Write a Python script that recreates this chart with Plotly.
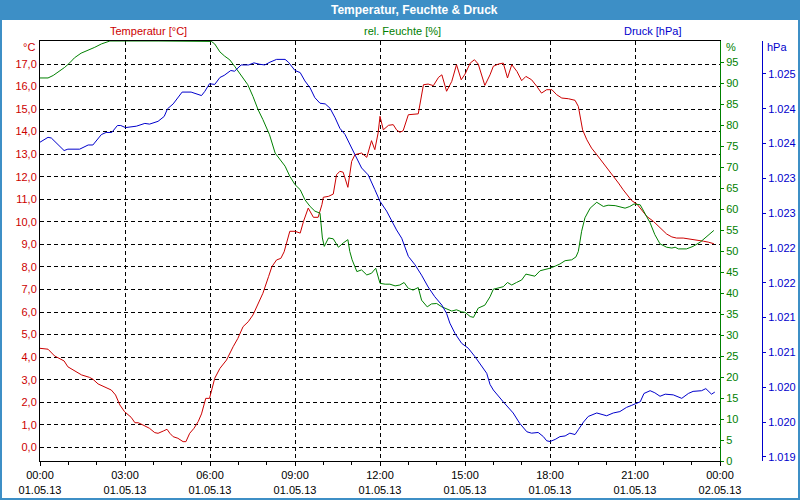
import pandas as pd
import plotly.graph_objects as go

# ---------------- data (minutes after 01.05.13 00:00) ----------------
temp_min = [0,17,31,51,59,74,88,105,112,123,
            137,151,160,169,179,193,201,208,218,232,
            243,250,261,269,275,282,292,303,309,317,
            326,335,342,351,359,364,370,381,395,409,
            419,430,441,451,462,472,484,491,501,510,
            517,522,529,540,551,558,568,579,589,597,
            600,611,621,628,635,642,652,660,667,681,
            692,702,709,716,720,727,738,748,755,762,
            769,780,791,801,812,822,833,844,851,861,
            872,882,892,900,911,920,928,942,953,960,
            971,981,990,999,1010,1020,1029,1041,1052,1062,
            1073,1084,1094,1105,1119,1133,1140,1145,1149,1158,
            1168,1179,1193,1204,1214,1225,1235,1246,1253,1264,
            1274,1285,1299,1313,1327,1338,1348,1362,1376,1391,
            1405,1415,1427]
temp_val = [4.39,4.35,4.05,3.83,3.57,3.40,3.21,3.10,3.02,2.81,
            2.69,2.54,2.32,1.88,1.58,1.33,1.09,1.09,0.99,0.84,
            0.65,0.62,0.72,0.80,0.62,0.47,0.40,0.25,0.25,0.62,
            0.84,1.14,1.48,2.17,2.17,2.54,3.06,3.50,3.87,4.46,
            4.83,5.35,5.57,5.87,6.39,6.83,7.57,8.01,8.31,8.38,
            8.67,9.06,9.58,9.58,9.50,10.02,10.61,10.20,10.20,10.76,
            11.09,11.13,11.23,12.09,12.24,12.20,11.53,12.68,12.98,13.05,
            12.86,13.60,13.20,13.94,14.68,14.08,14.28,14.31,14.08,13.97,
            14.04,14.75,14.78,14.79,16.08,16.11,16.04,16.41,16.52,15.79,
            16.23,16.97,16.30,16.55,17.04,17.19,17.00,16.05,16.52,16.90,
            17.00,17.04,16.38,16.97,16.67,16.26,16.45,16.30,16.01,15.71,
            15.86,15.86,15.64,15.49,15.46,15.39,15.12,14.60,14.08,13.64,
            13.27,12.98,12.61,12.31,12.02,11.72,11.42,11.13,10.94,10.79,
            10.54,10.24,10.02,9.73,9.46,9.33,9.28,9.28,9.24,9.21,
            9.14,9.10,9.03]

hum_min = [0,17,28,42,52,63,73,87,102,116,
           130,148,250,347,363,370,381,391,402,412,
           426,440,451,462,472,486,498,508,519,529,
           540,551,561,572,582,593,595,598,602,611,
           621,632,642,652,656,661,671,681,692,702,
           711,720,731,741,752,762,771,780,790,801,
           808,820,829,840,851,861,872,882,893,900,
           911,918,928,942,953,960,981,990,999,1009,
           1020,1029,1038,1048,1059,1069,1080,1091,1101,1112,
           1126,1135,1140,1147,1154,1165,1179,1193,1203,1218,
           1228,1239,1249,1258,1271,1281,1292,1302,1313,1327,
           1338,1345,1352,1369,1383,1398,1412,1427]
hum_val = [91.2,91.2,91.8,92.8,93.7,94.8,96.0,97.1,97.8,98.5,
           99.3,100,100,100,99.9,99.3,97.4,96.4,95.5,94.0,
           91.8,89.6,86.8,83.6,81.3,77.7,73.3,71.7,70.2,67.8,
           65.8,64.6,62.2,60.6,59.5,59.0,56.3,53.1,51.1,53.1,
           52.9,50.9,51.9,52.7,49.9,47.9,45.1,45.5,44.3,44.7,
           45.9,42.3,42.1,42.1,41.7,41.9,42.5,41.1,40.7,41.3,
           38.3,36.7,37.4,37.5,36.7,36.2,35.7,36.0,35.5,35.4,
           34.4,34.2,36.4,37.1,39.1,40.9,41.5,42.5,41.9,42.5,
           43.1,44.5,44.3,44.0,45.3,45.5,45.9,46.4,46.9,47.7,
           47.9,48.6,49.9,54.7,57.9,60.2,61.6,60.6,60.9,60.8,
           60.6,60.2,60.6,61.2,61.0,59.0,56.7,53.9,51.7,50.9,
           50.7,50.9,50.5,50.5,51.1,52.1,53.5,54.9]

pres_min = [0,17,24,38,51,59,84,102,112,130,
            140,152,164,171,181,204,222,232,250,263,
            270,282,301,320,335,342,349,359,370,381,
            390,404,412,426,442,453,465,476,487,501,
            519,526,540,551,561,572,582,593,604,614,
            625,635,646,656,667,681,695,709,720,734,
            745,755,766,777,780,794,808,822,836,851,
            861,868,879,893,907,921,935,946,953,960,
            981,1002,1016,1031,1041,1055,1066,1073,1080,1091,
            1101,1112,1122,1133,1140,1151,1161,1179,1200,1214,
            1228,1242,1253,1264,1271,1279,1292,1302,1313,1324,
            1341,1359,1373,1383,1401,1410,1415,1422,1429]
pres_val = [1024.02,1024.09,1024.08,1023.99,1023.90,1023.92,1023.92,1023.98,1023.98,1024.13,
            1024.16,1024.16,1024.26,1024.26,1024.23,1024.25,1024.29,1024.28,1024.32,1024.39,
            1024.50,1024.57,1024.74,1024.74,1024.71,1024.69,1024.75,1024.86,1024.85,1024.95,
            1024.98,1025.05,1025.04,1025.13,1025.13,1025.16,1025.14,1025.13,1025.17,1025.21,
            1025.21,1025.17,1025.05,1025.02,1024.90,1024.80,1024.66,1024.58,1024.57,1024.51,
            1024.37,1024.22,1024.13,1023.98,1023.84,1023.65,1023.55,1023.34,1023.17,1023.03,
            1022.88,1022.76,1022.64,1022.45,1022.38,1022.26,1022.11,1021.94,1021.80,1021.68,
            1021.56,1021.42,1021.27,1021.13,1021.06,1020.94,1020.80,1020.70,1020.54,1020.46,
            1020.29,1020.13,1019.98,1019.86,1019.84,1019.85,1019.79,1019.73,1019.72,1019.75,
            1019.79,1019.80,1019.84,1019.82,1019.89,1020.00,1020.08,1020.13,1020.09,1020.13,
            1020.15,1020.21,1020.24,1020.27,1020.29,1020.41,1020.45,1020.42,1020.37,1020.40,
            1020.39,1020.34,1020.41,1020.44,1020.45,1020.48,1020.45,1020.40,1020.43]

# tick definitions
x_tick_hours = [0, 3, 6, 9, 12, 15, 18, 21, 24]
x_tick_text = ["00:00<br>01.05.13", "03:00<br>01.05.13", "06:00<br>01.05.13",
               "09:00<br>01.05.13", "12:00<br>01.05.13", "15:00<br>01.05.13",
               "18:00<br>01.05.13", "21:00<br>01.05.13", "00:00<br>02.05.13"]
temp_ticks = list(range(0, 18))
temp_tick_text = [f"{v},0" for v in temp_ticks]
hum_ticks = list(range(0, 100, 5))
hum_tick_text = [str(v) for v in hum_ticks]
pres_ticks = [1025.0, 1024.5, 1024.0, 1023.5, 1023.0, 1022.5, 1022.0, 1021.5, 1021.0, 1020.5, 1020.0, 1019.5]
pres_tick_text = ["1.025", "1.024", "1.024", "1.023", "1.023", "1.022",
                  "1.022", "1.021", "1.021", "1.020", "1.020", "1.019"]

# ---------------- styling ----------------
RED = "#cc0000"
GREEN = "#008000"
BLUE = "#0000cc"
FRAME = "#3d8fc6"
FONT = "Liberation Sans"

base = pd.Timestamp("2013-05-01 00:00")
def to_time(mins):
    return [base + pd.Timedelta(minutes=m) for m in mins]

W, H = 800, 500
ML, MR, MT, MB = 40, 38, 41, 39
PW, PH = W - ML - MR, H - MT - MB
def px(xp):  # pixel x -> paper
    return (xp - ML) / PW
def py(yp):  # pixel y -> paper
    return (H - MB - yp) / PH

fig = go.Figure()
fig.add_trace(go.Scatter(x=to_time(temp_min), y=temp_val, yaxis="y", mode="lines",
                         line=dict(color=RED, width=1), hoverinfo="skip"))
fig.add_trace(go.Scatter(x=to_time(hum_min), y=hum_val, yaxis="y2", mode="lines",
                         line=dict(color=GREEN, width=1), hoverinfo="skip"))
fig.add_trace(go.Scatter(x=to_time(pres_min), y=pres_val, yaxis="y3", mode="lines",
                         line=dict(color=BLUE, width=1), hoverinfo="skip"))

fig.update_layout(
    width=W, height=H,
    margin=dict(l=ML, r=MR, t=MT, b=MB, autoexpand=False),
    paper_bgcolor="white", plot_bgcolor="white",
    showlegend=False,
    font=dict(family=FONT, size=11, color="black"),
    xaxis=dict(
        automargin=False,
        domain=[0, (720 - ML) / PW],
        type="date",
        range=[base, base + pd.Timedelta(hours=24)],
        tickmode="array",
        tickvals=[base + pd.Timedelta(hours=h) for h in x_tick_hours],
        ticktext=x_tick_text,
        ticks="outside", ticklen=4, tickcolor="black", tickwidth=1,
        showline=True, linecolor="black", linewidth=1, mirror=True,
        showgrid=True, gridcolor="black", gridwidth=1, griddash="4px,3px",
        zeroline=False,
        tickfont=dict(family=FONT, size=11, color="black"),
        minor=dict(tickmode="linear", tick0=base, dtick=3600000,
                   ticks="outside", ticklen=3, tickcolor="black", showgrid=False),
    ),
    yaxis=dict(
        automargin=False,
        range=[-0.608, 18.02],
        tickmode="array", tickvals=temp_ticks, ticktext=temp_tick_text,
        ticks="", showline=True, linecolor="black", linewidth=1,
        showgrid=True, gridcolor="black", gridwidth=1, griddash="4px,3px",
        zeroline=False,
        tickfont=dict(family=FONT, size=11, color=RED),
    ),
    yaxis2=dict(
        automargin=False,
        overlaying="y", side="right", anchor="x",
        range=[0, 100],
        tickmode="array", tickvals=hum_ticks, ticktext=hum_tick_text,
        ticks="outside", ticklen=3, tickcolor=GREEN,
        showline=True, linecolor=GREEN, linewidth=1,
        showgrid=False, zeroline=False,
        tickfont=dict(family=FONT, size=11, color=GREEN),
    ),
    yaxis3=dict(
        automargin=False,
        overlaying="y", side="right", anchor="free", position=1.0,
        range=[1019.44, 1025.474],
        tickmode="array", tickvals=pres_ticks, ticktext=pres_tick_text,
        ticks="outside", ticklen=3, tickcolor=BLUE,
        showline=True, linecolor=BLUE, linewidth=1,
        showgrid=False, zeroline=False,
        tickfont=dict(family=FONT, size=11, color=BLUE),
    ),
)

shapes = [
    # title bar
    dict(type="rect", xref="paper", yref="paper", x0=px(-5), x1=px(805), y0=py(20), y1=py(-5),
         fillcolor=FRAME, line=dict(width=0), layer="above"),
    # frame left / right / bottom
    dict(type="rect", xref="paper", yref="paper", x0=px(-2), x1=px(2), y0=py(505), y1=py(-5),
         fillcolor=FRAME, line=dict(width=0), layer="above"),
    dict(type="rect", xref="paper", yref="paper", x0=px(798), x1=px(805), y0=py(505), y1=py(-5),
         fillcolor=FRAME, line=dict(width=0), layer="above"),
    dict(type="rect", xref="paper", yref="paper", x0=px(-5), x1=px(805), y0=py(505), y1=py(498),
         fillcolor=FRAME, line=dict(width=0), layer="above"),
]
fig.update_layout(shapes=shapes)

def ann(text, x, y, color, xanchor="center", size=11, bold=False):
    return dict(text=f"<b>{text}</b>" if bold else text, xref="paper", yref="paper",
                x=px(x), y=py(y), xanchor=xanchor, yanchor="middle", showarrow=False,
                font=dict(family=FONT, size=size, color=color))

fig.update_layout(annotations=[
    ann("Temperatur, Feuchte &amp; Druck", 414, 10, "white", size=12, bold=True),
    ann("Temperatur [°C]", 148, 31, RED),
    ann("rel. Feuchte [%]", 402, 31, GREEN),
    ann("Druck [hPa]", 652, 31, BLUE),
    ann("°C", 37, 47, RED, xanchor="right"),
    ann("%", 724, 47, GREEN, xanchor="left"),
    ann("hPa", 765, 47, BLUE, xanchor="left"),
])

fig.write_html("out.html")
